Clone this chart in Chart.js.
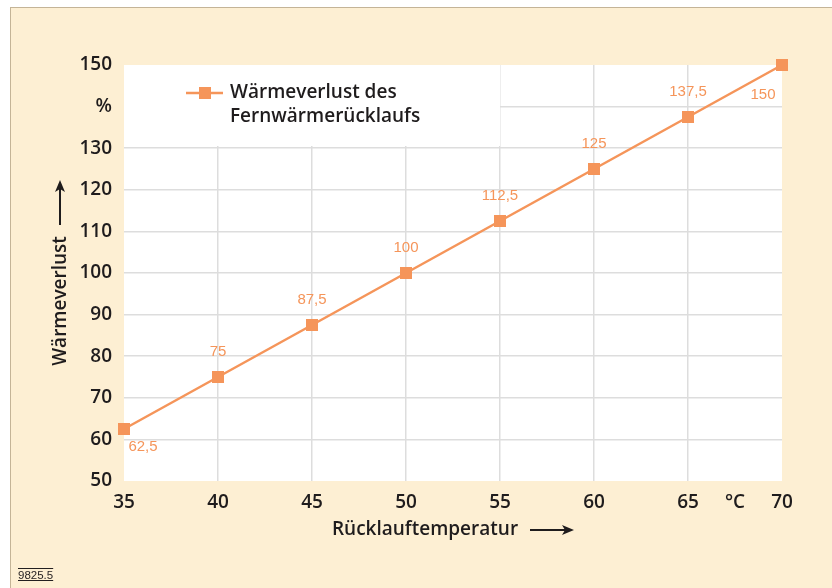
<!DOCTYPE html>
<html>
<head>
<meta charset="utf-8">
<script src="https://cdn.jsdelivr.net/npm/chart.js@4.4.1/dist/chart.umd.min.js"></script>
<style>
  html, body { margin: 0; padding: 0; background: #ffffff; }
  #frame {
    position: absolute; left: 10px; top: 7px; width: 840px; height: 600px;
    background: #fdefd3; border: 1px solid #c4b497;
  }
  #chart { position: absolute; left: 0; top: 0; }
  #code {
    position: absolute; left: 18px; top: 569px;
    font: 11.5px "Liberation Sans", Arial, sans-serif; color: #231f20;
    text-decoration: underline overline;
  }
</style>
</head>
<body>
<div id="frame"></div>
<canvas id="chart" width="832" height="588"></canvas>
<div id="code">9825.5</div>
<script>
// Rücklauftemperatur in °C
var temps = [35, 40, 45, 50, 55, 60, 65, 70];
// Wärmeverlust in %
var losses = [62.5, 75, 87.5, 100, 112.5, 125, 137.5, 150];
var labelsText = ['62,5', '75', '87,5', '100', '112,5', '125', '137,5', '150'];
var seriesName = ['Wärmeverlust des', 'Fernwärmerücklaufs'];
var xTitle = 'Rücklauftemperatur';
var yTitle = 'Wärmeverlust';

var orange = '#f5955a';
var ink = '#1f1c1d';
var gridGray = '#dddddd';
var font = '"Open Sans", "Noto Sans", sans-serif';
var weight = 600;

var points = temps.map(function (t, i) { return {x: t, y: losses[i]}; });

var whiteArea = {
  id: 'whiteArea',
  beforeDraw: function (chart) {
    var a = chart.chartArea, ctx = chart.ctx;
    ctx.save();
    ctx.fillStyle = '#ffffff';
    ctx.fillRect(a.left, a.top, a.right - a.left, a.bottom - a.top);
    ctx.restore();
  }
};

// legend box inside the plot, hides the grid behind it
var innerLegend = {
  id: 'innerLegend',
  beforeDatasetsDraw: function (chart) {
    var a = chart.chartArea, ctx = chart.ctx;
    ctx.save();
    ctx.fillStyle = '#ffffff';
    ctx.fillRect(a.left, a.top, 376, 81);
    ctx.strokeStyle = orange;
    ctx.lineWidth = 2.5;
    ctx.beginPath();
    ctx.moveTo(a.left + 62, a.top + 28);
    ctx.lineTo(a.left + 99, a.top + 28);
    ctx.stroke();
    ctx.fillStyle = orange;
    ctx.fillRect(a.left + 75, a.top + 22, 12, 12);
    ctx.fillStyle = ink;
    ctx.font = weight + ' 19px ' + font;
    ctx.textBaseline = 'middle';
    ctx.textAlign = 'left';
    ctx.fillText(seriesName[0], a.left + 106, a.top + 28);
    ctx.fillText(seriesName[1], a.left + 106, a.top + 52);
    ctx.restore();
  }
};

var valueLabels = {
  id: 'valueLabels',
  afterDatasetsDraw: function (chart) {
    var ctx = chart.ctx;
    var meta = chart.getDatasetMeta(0);
    ctx.save();
    ctx.fillStyle = orange;
    ctx.font = '15px "Liberation Sans", Arial, sans-serif';
    ctx.textBaseline = 'middle';
    ctx.textAlign = 'center';
    meta.data.forEach(function (pt, i) {
      var x = pt.x, y = pt.y - 25;
      if (i === 0) { x = pt.x + 19; y = pt.y + 18; }
      if (i === meta.data.length - 1) { x = pt.x - 19; y = pt.y + 30; }
      ctx.fillText(labelsText[i], x, y);
    });
    ctx.restore();
  }
};

function arrowHead(ctx, x, y, ang) {
  ctx.save();
  ctx.translate(x, y);
  ctx.rotate(ang);
  ctx.beginPath();
  ctx.moveTo(0, 0);
  ctx.lineTo(-12, -5);
  ctx.lineTo(-9, 0);
  ctx.lineTo(-12, 5);
  ctx.closePath();
  ctx.fill();
  ctx.restore();
}

// axis titles with their arrows
var axisTitles = {
  id: 'axisTitles',
  afterDraw: function (chart) {
    var a = chart.chartArea, ctx = chart.ctx;
    ctx.save();
    ctx.fillStyle = ink;
    ctx.strokeStyle = ink;
    ctx.lineWidth = 2;
    ctx.font = weight + ' 19px ' + font;
    ctx.textBaseline = 'middle';
    ctx.textAlign = 'center';
    var cx = (a.left + a.right) / 2;
    ctx.fillText(xTitle, cx - 28, a.bottom + 49);
    ctx.beginPath();
    ctx.moveTo(cx + 77, a.bottom + 49);
    ctx.lineTo(cx + 114, a.bottom + 49);
    ctx.stroke();
    arrowHead(ctx, cx + 121, a.bottom + 49, 0);

    var cy = (a.top + a.bottom) / 2;
    ctx.save();
    ctx.translate(61, cy + 28);
    ctx.rotate(-Math.PI / 2);
    ctx.fillText(yTitle, 0, 0);
    ctx.restore();
    ctx.beginPath();
    ctx.moveTo(60, cy - 48);
    ctx.lineTo(60, cy - 86);
    ctx.stroke();
    arrowHead(ctx, 60, cy - 93, -Math.PI / 2);
    ctx.restore();
  }
};

new Chart(document.getElementById('chart'), {
  type: 'line',
  data: {
    datasets: [{
      label: seriesName.join(' '),
      data: points,
      borderColor: orange,
      backgroundColor: orange,
      borderWidth: 2.5,
      pointStyle: 'rect',
      pointRadius: 8.5,
      pointHoverRadius: 8.5,
      pointBorderWidth: 0,
      clip: false,
      tension: 0
    }]
  },
  options: {
    responsive: false,
    animation: false,
    devicePixelRatio: 1,
    layout: { padding: { left: 0, top: 65, right: 50, bottom: 27 } },
    plugins: {
      legend: { display: false },
      tooltip: { enabled: false }
    },
    scales: {
      x: {
        type: 'linear',
        min: 35, max: 70,
        afterFit: function (s) { s.height = 80; },
        border: { display: false },
        grid: {
          drawTicks: false,
          lineWidth: 1.5,
          color: function (c) {
            var v = c.tick.value;
            return (v % 5 === 0 && v > 35 && v < 70) ? gridGray : 'rgba(0,0,0,0)';
          }
        },
        ticks: {
          stepSize: 2.5,
          autoSkip: false,
          maxRotation: 0,
          padding: 10,
          color: ink,
          font: { family: font, size: 19, weight: weight },
          callback: function (v) {
            if (v === 67.5) return '°C';
            return v % 5 === 0 ? v : '';
          }
        }
      },
      y: {
        min: 50, max: 150,
        afterFit: function (s) { s.width = 124; },
        border: { display: false },
        grid: {
          drawTicks: false,
          lineWidth: 1.5,
          color: function (c) {
            var v = c.tick.value;
            return (v > 50 && v < 150) ? gridGray : 'rgba(0,0,0,0)';
          }
        },
        ticks: {
          stepSize: 10,
          padding: 12,
          color: ink,
          font: { family: font, size: 19, weight: weight },
          callback: function (v) { return v === 140 ? '%' : v; }
        }
      }
    }
  },
  plugins: [whiteArea, innerLegend, valueLabels, axisTitles]
});
</script>
</body>
</html>
